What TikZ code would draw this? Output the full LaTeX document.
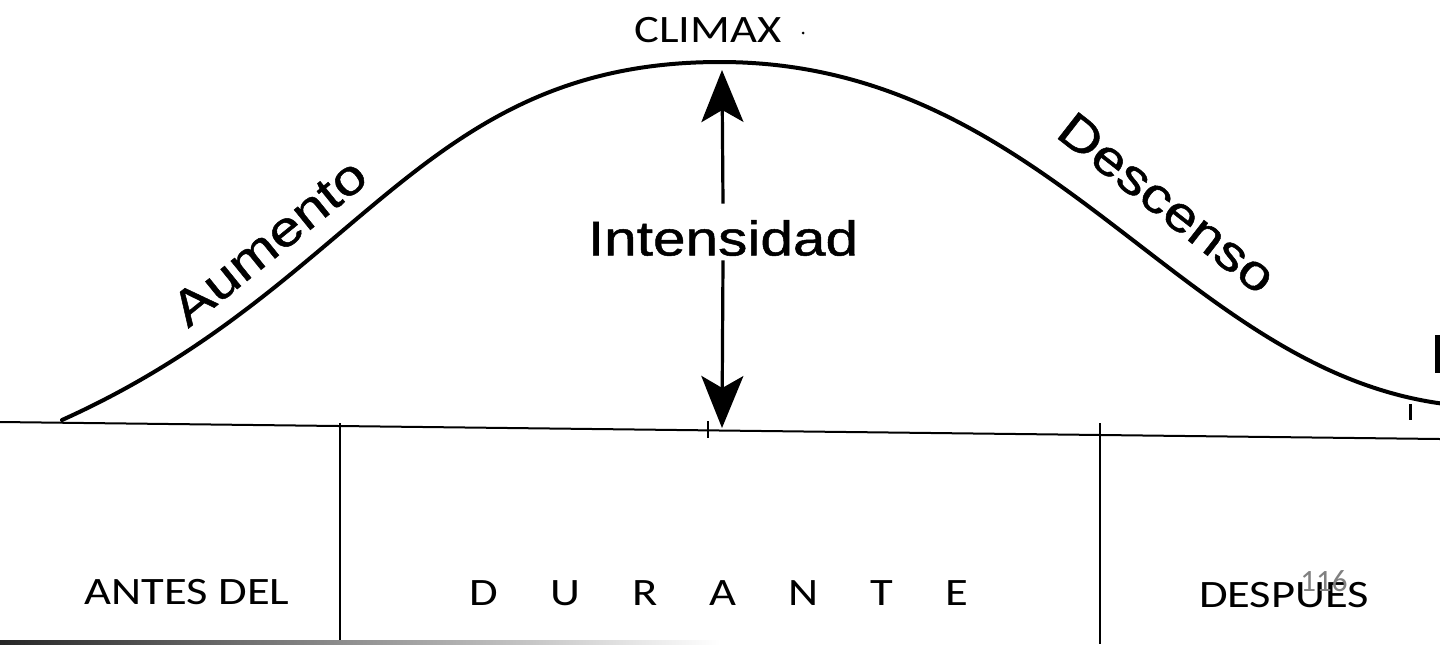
\documentclass[tikz,border=0pt]{standalone}
\usepackage{fontspec}
\setmainfont{Carlito}[FakeStretch=1.2]
\newfontfamily\scanfont{Liberation Sans}[FakeStretch=1.2,FakeBold=1]
\newfontfamily\pagenumfont{Carlito}
\usepackage{xcolor}
\usepackage{tikz}
\usetikzlibrary{positioning,arrows.meta}
\definecolor{pagegray}{RGB}{128,128,128}

\begin{document}
\begin{tikzpicture}[
    x=0.5pt, y=-0.5pt,
    phase/.style={inner sep=0pt, anchor=base, font=\fontsize{19.4}{23}\selectfont},
    scanlabel/.style={inner sep=2pt, font=\scanfont\fontsize{24.4}{29}\selectfont},
    curve/.style={draw, line width=2pt, line join=round, line cap=round},
    axis/.style={draw, line width=1pt},
    arr/.style={draw, -{Stealth[length=26pt, width=21pt, inset=6pt]}, line width=1.6pt}
]
    % Frame
    \path[fill=white, use as bounding box] (0,0) rectangle (1440,644);

    % Curve
    \draw[curve] (62,420) .. controls (362,285) and (420,62) .. (720,62)
                          .. controls (1050,62) and (1180,370) .. (1445,404);

    % Axis and columns
    \draw[axis] (0,422) -- (1440,439);
    \draw[axis] (340,423) -- (340,644);
    \draw[axis] (1100,423) -- (1100,644);
    \draw[axis] (708,421) -- (708,438);

    % Nodes
    \node[phase] (climax) at (708,42) {CLIMAX};
    \node[phase] (antes) at (187,604) {ANTES DEL};
    \node[phase] (durante) at (719,605) {D\hspace{26pt}U\hspace{26pt}R\hspace{26pt}A\hspace{26pt}N\hspace{26pt}T\hspace{26pt}E};
    \node[phase] (despues) at (1284,607) {DESPUES};
    \node[phase, font=\pagenumfont\fontsize{15.5}{18}\selectfont, text=pagegray] (pagenum) at (1324,591) {116};

    \node[scanlabel] (intens) at (723,238) {Intensidad};
    \node[scanlabel, rotate=39] (aumento) at (269,242) {Aumento};
    \node[scanlabel, rotate=-38] (descenso) at (1167,203) {Descenso};

    % Arrows
    \coordinate (peak) at (722,70);
    \coordinate (floor) at (722,428);
    \draw[arr] ([yshift=6pt]intens.north) -- (peak);
    \draw[arr] (intens.south) -- (floor);

    % Scan marks
    \fill (803,33) circle (1.5);
    \draw[line width=1.5pt] (1410,404) -- (1410,420);
    \fill (1435,335) rectangle (1441,373);
    \fill[left color=black!85, right color=white] (0,640) rectangle (720,645);
\end{tikzpicture}
\end{document}
